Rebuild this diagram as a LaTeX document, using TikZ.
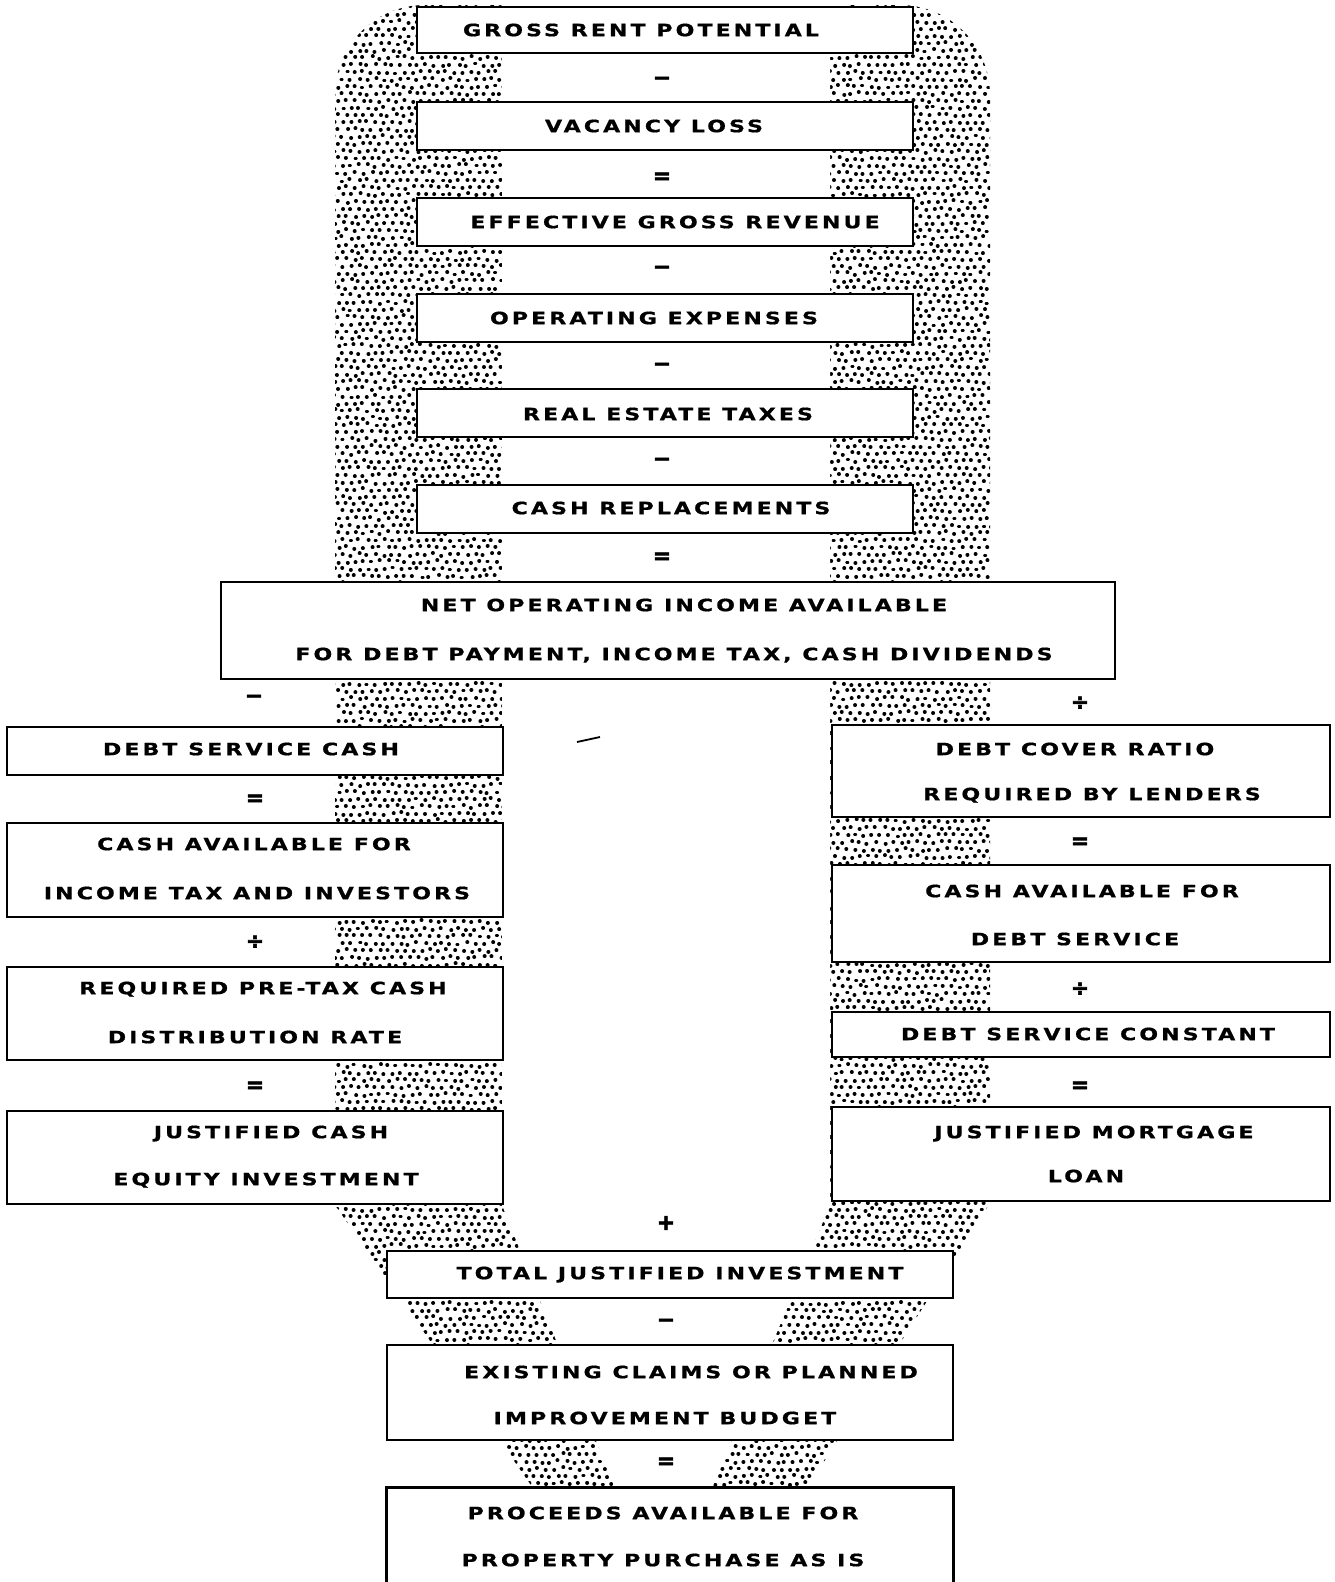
\documentclass[tikz,border=0pt]{standalone}
\usepackage{fontspec}
\usetikzlibrary{fit}
\newfontfamily\labelfamily{DejaVu Sans}[FakeStretch=1.3, LetterSpace=18, FakeBold=0.8]
\newfontfamily\signfamily{DejaVu Sans}[FakeBold=2.5]
\newcommand\boxfont{\labelfamily\bfseries\fontsize{17}{20}\selectfont}
\newcommand\opfont{\signfamily\bfseries\fontsize{22}{24}\selectfont}
\tikzset{
  box/.style={draw, line width=2.9pt, fill=white, inner sep=0pt},
  lbl/.style={font=\boxfont, inner sep=0pt, anchor=base, yshift=-6.2pt},
  op/.style={font=\opfont, inner sep=0pt},
  stipdot/.style={line width=3.9pt, line cap=round},
}
\begin{document}
\begin{tikzpicture}[x=1pt, y=-1pt]
\useasboundingbox (0,0) rectangle (1335,1582);
\fill[white] (0,0) rectangle (1335,1582);

% stippled band behind the central column
\begin{scope}
  \clip (335,1205) -- (335,600) [rounded corners=90pt] -- (335,5) -- (990,5)
        -- (990,600) [sharp corners] -- (990,1203) -- (807,1488) -- (807,1530)
        -- (533,1530) -- (533,1488) -- cycle;
  \pgfmathsetseed{4242}
  % straight sides
  \foreach \r in {0,...,167} {
    \draw[stipdot]
      \foreach \c in {0,...,21} {
        ({330+8.3*\c+4.15*mod(\r,2)+1.5*rand},{7.2*\r+1.5*rand}) -- ++(0.1,0) }
      \foreach \c in {0,...,21} {
        ({822+8.3*\c+4.15*mod(\r,2)+1.5*rand},{7.2*\r+1.5*rand}) -- ++(0.1,0) };
  }
  % tapering part
  \foreach \r in {168,...,210} {
    \draw[stipdot]
      \foreach \c in {0,...,35} {
        ({330+8.3*\c+4.15*mod(\r,2)+1.5*rand},{7.2*\r+1.5*rand}) -- ++(0.1,0) }
      \foreach \c in {0,...,36} {
        ({698+8.3*\c+4.15*mod(\r,2)+1.5*rand},{7.2*\r+1.5*rand}) -- ++(0.1,0) };
  }
\end{scope}
\fill[white] (502,30) -- (502,1205) -- (615,1488) -- (712,1488) -- (830,1205) -- (830,30) -- cycle;

% central column
\node[box, fit={(417,7)(913,53)}]    (grp) {};
\node[box, fit={(417,102)(913,150)}] (vl)  {};
\node[box, fit={(417,198)(913,246)}] (egr) {};
\node[box, fit={(417,294)(913,342)}] (oe)  {};
\node[box, fit={(417,389)(913,437)}] (ret) {};
\node[box, fit={(417,485)(913,533)}] (cr)  {};
\node[box, fit={(221,582)(1115,679)}] (noi) {};

% equity side
\node[box, fit={(7,727)(503,775)}]    (dsc)  {};
\node[box, fit={(7,823)(503,917)}]    (cait) {};
\node[box, fit={(7,967)(503,1060)}]   (rpt)  {};
\node[box, fit={(7,1111)(503,1204)}]  (jce)  {};

% mortgage side
\node[box, fit={(832,725)(1330,817)}]   (dcr)  {};
\node[box, fit={(832,865)(1330,962)}]   (cads) {};
\node[box, fit={(832,1012)(1330,1057)}] (dsk)  {};
\node[box, fit={(832,1107)(1330,1201)}] (jml)  {};

% totals
\node[box, fit={(387,1251)(953,1298)}] (tji) {};
\node[box, fit={(387,1345)(953,1440)}] (ecp) {};
\node[fill=white, inner sep=0pt, fit={(387,1488)(953,1582)}] (paf) {};
\draw[line width=2.9pt] (paf.south west) -- (paf.north west) -- (paf.north east) -- (paf.south east);

% labels
\node[lbl] (grpT) at (641,30)  {GROSS RENT POTENTIAL};
\node[lbl] (vlT)  at (654,126) {VACANCY LOSS};
\node[lbl] (egrT) at (675,222) {EFFECTIVE GROSS REVENUE};
\node[lbl] (oeT)  at (654,318) {OPERATING EXPENSES};
\node[lbl] (retT) at (668,414) {REAL ESTATE TAXES};
\node[lbl] (crT)  at (671,508) {CASH REPLACEMENTS};
\node[lbl] (noiA) at (684,605) {NET OPERATING INCOME AVAILABLE};
\node[lbl] (noiB) at (674,654) {FOR DEBT PAYMENT, INCOME TAX, CASH DIVIDENDS};

\node[lbl] (dscT)  at (251,749)  {DEBT SERVICE CASH};
\node[lbl] (caitA) at (254,844)  {CASH AVAILABLE FOR};
\node[lbl] (caitB) at (257,893)  {INCOME TAX AND INVESTORS};
\node[lbl] (rptA)  at (263,988)  {REQUIRED PRE-TAX CASH};
\node[lbl] (rptB)  at (255,1037) {DISTRIBUTION RATE};
\node[lbl] (jceA)  at (271,1132) {JUSTIFIED CASH};
\node[lbl] (jceB)  at (266,1179) {EQUITY INVESTMENT};

\node[lbl] (dcrA)  at (1075,749)  {DEBT COVER RATIO};
\node[lbl] (dcrB)  at (1092,794)  {REQUIRED BY LENDERS};
\node[lbl] (cadsA) at (1082,891)  {CASH AVAILABLE FOR};
\node[lbl] (cadsB) at (1075,939)  {DEBT SERVICE};
\node[lbl] (dskT)  at (1088,1034) {DEBT SERVICE CONSTANT};
\node[lbl] (jmlA)  at (1094,1132) {JUSTIFIED MORTGAGE};
\node[lbl] (jmlB)  at (1086,1176) {LOAN};

\node[lbl] (tjiT)  at (680,1273) {TOTAL JUSTIFIED INVESTMENT};
\node[lbl] (ecpA)  at (691,1372) {EXISTING CLAIMS OR PLANNED};
\node[lbl] (ecpB)  at (665,1418) {IMPROVEMENT BUDGET};
\node[lbl] (pafA)  at (663,1513) {PROCEEDS AVAILABLE FOR};
\node[lbl] (pafB)  at (663,1560) {PROPERTY PURCHASE AS IS};

% operators
\node[op] (op1) at (662,81)  {−};
\node[op] (op2) at (662,178) {=};
\node[op] (op3) at (662,270) {−};
\node[op] (op4) at (662,367) {−};
\node[op] (op5) at (662,462) {−};
\node[op] (op6) at (662,558) {=};
\node[op] (opL1) at (254,699)  {−};
\node[op] (opL2) at (255,800)  {=};
\node[op] (opL3) at (255,942)  {÷};
\node[op] (opL4) at (255,1087) {=};
\node[op] (opR1) at (1080,703)  {÷};
\node[op] (opR2) at (1080,843)  {=};
\node[op] (opR3) at (1080,989)  {÷};
\node[op] (opR4) at (1080,1087) {=};
\node[op] (opB1) at (666,1223) {+};
\node[op] (opB2) at (666,1323) {−};
\node[op] (opB3) at (666,1463) {=};

% stray pen stroke in the open middle
\draw[line width=1.8pt] (577,742) -- (600,737);
\end{tikzpicture}
\end{document}
